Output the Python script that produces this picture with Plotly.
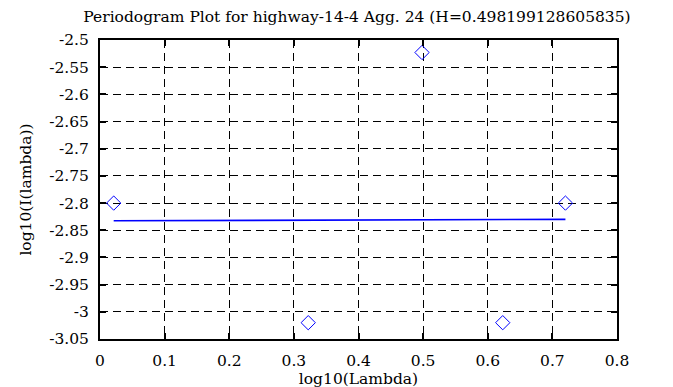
import plotly.graph_objects as go

# Data
log_lambda = [0.0212, 0.3222, 0.4983, 0.6232, 0.7202]
log_I = [-2.800, -3.020, -2.523, -3.020, -2.800]

fit_x = [0.0212, 0.7202]
fit_y = [-2.8325, -2.8300]

x_ticks = [0, 0.1, 0.2, 0.3, 0.4, 0.5, 0.6, 0.7, 0.8]
x_ticktext = ["0", "0.1", "0.2", "0.3", "0.4", "0.5", "0.6", "0.7", "0.8"]
y_ticks = [-2.5, -2.55, -2.6, -2.65, -2.7, -2.75, -2.8, -2.85, -2.9, -2.95, -3.0, -3.05]
y_ticktext = ["-2.5", "-2.55", "-2.6", "-2.65", "-2.7", "-2.75", "-2.8", "-2.85",
              "-2.9", "-2.95", "-3", "-3.05"]

title = "Periodogram Plot for highway-14-4 Agg. 24 (H=0.498199128605835)"
FONT = "DejaVu Serif"
FS = 15.5

fig = go.Figure()
fig.add_trace(go.Scatter(x=fit_x, y=fit_y, mode="lines",
                         line=dict(color="#0000ff", width=1.6), showlegend=False))
fig.add_trace(go.Scatter(x=log_lambda, y=log_I, mode="markers",
                         marker=dict(symbol="diamond-open", size=11, color="#0000ff",
                                     line=dict(color="#0000ff", width=1)),
                         showlegend=False))

axis_common = dict(
    showline=True, linewidth=2, linecolor="black", mirror="allticks",
    ticks="inside", ticklen=6, tickwidth=2, tickcolor="black",
    showgrid=True, gridcolor="black", gridwidth=1, griddash="8px,5px",
    zeroline=False, tickfont=dict(family=FONT, size=FS, color="black"),
    ticklabelstandoff=6,
)

fig.update_layout(
    width=673, height=387,
    margin=dict(l=92, r=64, t=32, b=56),
    paper_bgcolor="white", plot_bgcolor="white",
    title=dict(text=title, x=349 / 673, xref="container", xanchor="center",
               y=1 - 8.5 / 387, yref="container", yanchor="middle",
               font=dict(family=FONT, size=FS, color="black")),
    xaxis=dict(range=[0, 0.8], tickvals=x_ticks, ticktext=x_ticktext,
               title=dict(text="log10(Lambda)", standoff=4,
                          font=dict(family=FONT, size=FS, color="black")),
               **axis_common),
    yaxis=dict(range=[-3.05, -2.5], tickvals=y_ticks, ticktext=y_ticktext,
               title=dict(text="log10(I(lambda))", standoff=14,
                          font=dict(family=FONT, size=FS, color="black")),
               **axis_common),
)

fig.write_html("out.html")
